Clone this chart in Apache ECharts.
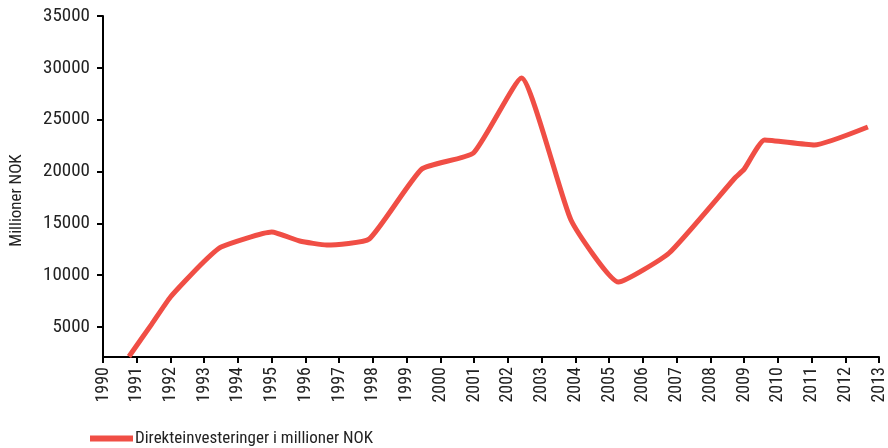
<!DOCTYPE html>
<html>
<head>
<meta charset="utf-8">
<script src="https://cdn.jsdelivr.net/npm/echarts@6/dist/echarts.min.js"></script>
<style>
html,body{margin:0;padding:0;background:#fff;}
#chart{width:888px;height:448px;}
</style>
</head>
<body>
<div id="chart"></div>
<script>
// Data (x = year position on the time scale, y = million NOK)
var seriesName = 'Direkteinvesteringer i millioner NOK';
var yearPos = [1990.77, 1991.45, 1992.0, 1992.89, 1993.5, 1995.0, 1995.83, 1996.63, 1997.89, 1999.45, 2000.98, 2002.4, 2003.87, 2005.28, 2006.78, 2008.73, 2009.0, 2009.61, 2011.08, 2012.67];
var values  = [2150, 5300, 7890, 10977, 12713, 14160, 13292, 12906, 13485, 20239, 21782, 29018, 15318, 9336, 12134, 19370, 20200, 23036, 22554, 24291];
var yTicks = [5000, 10000, 15000, 20000, 25000, 30000, 35000];

var FONT = "'Roboto Condensed','Liberation Sans Narrow','DejaVu Sans Condensed',sans-serif";
var points = yearPos.map(function(x, i){ return [x, values[i]]; });

var chart = echarts.init(document.getElementById('chart'), null, {renderer:'canvas'});
chart.setOption({
  animation: false,
  grid: {left: 101, right: 5, top: 16, bottom: 91, containLabel: false},
  legend: {
    left: 85, top: 425,
    icon: 'rect', itemWidth: 43, itemHeight: 6, itemGap: 10,
    textStyle: {fontFamily: FONT, fontSize: 17, color: '#222', padding: [0,0,0,-3]},
    data: [seriesName]
  },
  xAxis: {
    type: 'value', min: 1990, max: 2013, interval: 1,
    axisLine: {show: true, lineStyle: {color: '#000', width: 2}},
    axisTick: {show: true, length: 6, lineStyle: {color: '#000', width: 2}},
    splitLine: {show: false},
    axisLabel: {rotate: 90, margin: 10, fontFamily: FONT, fontSize: 18, color: '#222',
      formatter: function(v){ return String(v); }}
  },
  yAxis: {
    type: 'value', min: 2100, max: 35000,
    name: 'Millioner NOK', nameLocation: 'middle', nameGap: 78,
    nameTextStyle: {fontFamily: FONT, fontSize: 17, color: '#222', padding: [0, 28, 0, 0]},
    axisLine: {show: true, lineStyle: {color: '#000', width: 2}},
    axisTick: {show: true, length: 6, customValues: yTicks, lineStyle: {color: '#000', width: 2}},
    splitLine: {show: false},
    axisLabel: {customValues: yTicks, margin: 13, fontFamily: FONT, fontSize: 19, color: '#222',
      formatter: function(v){ return String(v); }}
  },
  series: [{
    name: seriesName,
    type: 'line',
    data: points,
    smooth: 0.15,
    showSymbol: false,
    clip: false,
    lineStyle: {color: '#f04e45', width: 5},
    itemStyle: {color: '#f04e45'}
  }]
});
</script>
</body>
</html>
